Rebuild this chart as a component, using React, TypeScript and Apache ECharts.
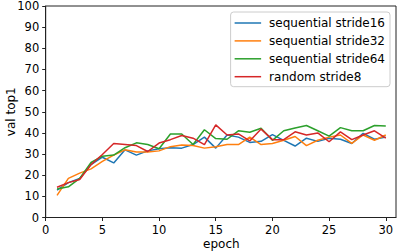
import React, { useEffect, useRef } from "react";
import * as echarts from "echarts";

const epochs = Array.from({ length: 30 }, (_, i) => i + 1);
const xTicks = [0, 5, 10, 15, 20, 25, 30];
const seriesNames = ["sequential stride16", "sequential stride32", "sequential stride64", "random stride8"];
const colors = ["#1f77b4", "#ff7f0e", "#2ca02c", "#d62728"];

const stride16 = [13, 16.5, 18.5, 25, 28.5, 25.8, 32, 29.5, 31.5, 32.5, 33, 32.8, 34.5, 38, 32.8, 39, 38, 35.5, 36, 39.2, 36.5, 33.8, 37.5, 36, 37.5, 37, 35, 39.8, 37, 38];
const stride32 = [10.5, 18.5, 21, 23, 26.5, 29.5, 32, 31, 31, 31.5, 33.5, 34.3, 34, 32.8, 33.5, 34.5, 34.5, 38, 34.5, 35, 36.5, 38.3, 34, 36.5, 38, 39, 35, 39, 36.5, 39];
const stride64 = [13.5, 14.5, 18.5, 26, 29, 29.5, 33, 35.3, 34.5, 32.5, 39.5, 39.5, 34.5, 41.5, 37.3, 37, 41, 40.3, 42.2, 36.5, 41, 42.3, 43.5, 41, 38.5, 42.5, 41, 41, 43.5, 43.3];
const random8 = [14.3, 16.5, 18, 25, 29.8, 35, 34.5, 34, 31.2, 35.2, 36.8, 38.8, 37.5, 34.5, 43.8, 39, 39.5, 36.2, 41.8, 36.8, 36.8, 40.5, 39, 40, 35.8, 40.5, 36.8, 39, 41, 37.5];
const allSeries = [stride16, stride32, stride64, random8];

const FONT = "DejaVu Sans";

export default function App() {
  const ref = useRef<HTMLDivElement>(null);
  useEffect(() => {
    if (!ref.current) return;
    const chart = echarts.init(ref.current, undefined, { renderer: "svg" });
    chart.setOption({
      animation: false,
      backgroundColor: "#fff",
      textStyle: { fontFamily: FONT, color: "#000" },
      grid: {
        left: 45.7,
        right: 3,
        top: 6,
        bottom: 34.5,
        show: true,
        borderColor: "#222",
        borderWidth: 1,
        backgroundColor: "transparent",
      },
      legend: {
        right: 9,
        top: 12,
        orient: "vertical",
        icon: "rect",
        itemWidth: 26.5,
        itemHeight: 1.5,
        itemGap: 3.9,
        padding: [4, 5, 3, 4],
        backgroundColor: "rgba(255,255,255,0.8)",
        borderColor: "#ccc",
        borderWidth: 1,
        borderRadius: 3,
        textStyle: { fontFamily: FONT, fontSize: 12, lineHeight: 14, color: "#000", padding: [0, 0, 0, 3] },
        data: seriesNames,
      },
      xAxis: {
        type: "value",
        min: 0,
        max: 30.9,
        splitLine: { show: false },
        axisLine: { show: true, onZero: false, lineStyle: { color: "#222", width: 1 } },
        axisTick: { show: true, length: 3.5, customValues: xTicks, lineStyle: { color: "#222" } },
        axisLabel: { customValues: xTicks, fontFamily: FONT, fontSize: 11.5, color: "#000", margin: 6 },
      },
      yAxis: {
        type: "value",
        min: 0,
        max: 100,
        interval: 10,
        splitLine: { show: false },
        axisLine: { show: true, onZero: false, lineStyle: { color: "#222", width: 1 } },
        axisTick: { show: true, length: 3.5, lineStyle: { color: "#222" } },
        axisLabel: { fontFamily: FONT, fontSize: 11.5, color: "#000", margin: 6.5 },
      },
      graphic: [
        {
          type: "text",
          x: 221.3,
          y: 244,
          style: { text: "epoch", font: `12px ${FONT}`, fill: "#000", textAlign: "center", textVerticalAlign: "middle" },
        },
        {
          type: "text",
          x: 10.5,
          y: 111.7,
          rotation: Math.PI / 2,
          style: { text: "val top1", font: `12px ${FONT}`, fill: "#000", textAlign: "center", textVerticalAlign: "middle" },
        },
      ],
      series: allSeries.map((vals, i) => ({
        name: seriesNames[i],
        type: "line",
        data: epochs.map((e, j) => [e, vals[j]]),
        symbol: "none",
        showSymbol: false,
        color: colors[i],
        itemStyle: { color: colors[i] },
        lineStyle: { color: colors[i], width: 1.5 },
      })),
    });
    return () => chart.dispose();
  }, []);
  return <div ref={ref} style={{ position: "fixed", left: 0, top: 0, width: 399, height: 252 }} />;
}
